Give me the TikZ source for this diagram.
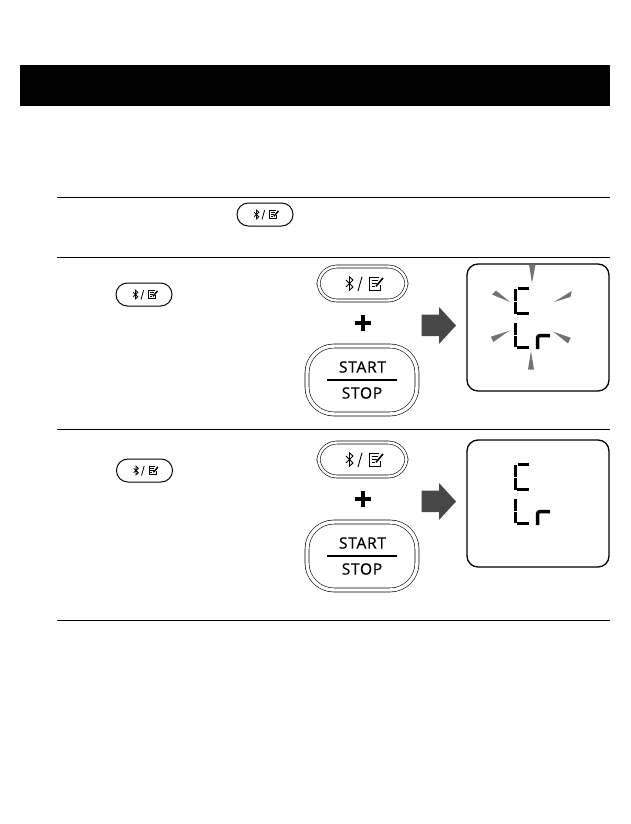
\documentclass[tikz,border=0pt]{standalone}
\usepackage{fontspec}
\setmainfont{Open Sans}
\newfontfamily\btnfont[LetterSpace=4.5,FakeBold=0.6]{Open Sans}
\tikzset{
  x=1pt,y=-1pt,
  rule/.style={line width=1.1pt,black},
  outline/.style={draw=black,rounded corners=#1,fill=white,inner sep=0pt},
  smallbtn/.style={outline=11.4pt,minimum width=56pt,minimum height=23pt,line width=1pt},
  bigbtn/.style={outline=18.4pt,minimum width=88pt,minimum height=34pt,double=white,double distance=2.4pt,line width=.6pt},
  startbtn/.style={outline=27pt,minimum width=110pt,minimum height=68pt,double=white,double distance=3.4pt,line width=.6pt},
  lcdpanel/.style={draw=black,line width=1.3pt,fill=white,rounded corners=11pt,minimum width=142pt,minimum height=127pt,inner sep=0pt},
  seg/.style={line width=3.3pt,black},
  ray/.style={fill=black!55,draw=none},
  btnicon/.pic={
    \draw[line width=#1,line join=miter] (-16.5,-3.4)--(-9.5,3.4)--(-13,6.8)--(-13,-6.8)--(-9.5,-3.4)--(-16.5,3.4);
    \draw[line width=#1] (-.5,-6.8)--(-4.5,7.5);
    \draw[line width=#1] (16,-6.2)--(7,-6.2)--(7,6.5)--(17.5,6.5)--(17.5,1);
    \draw[line width=#1] (9,-3)--(15,-3) (9,0)--(14,0) (9,3)--(12,3);
    \draw[line width=1.8*#1] (13.5,2.8)--(20.5,-5.5);
  }
}
\newcommand{\keypair}[1]{%
  \begin{scope}[yshift=-#1pt]
    \node[bigbtn] (bt#1) at (362.5,283.5) {};
    \pic at (bt#1.center) {btnicon=.9pt};
    \node[inner sep=0pt] (plus#1) at (363,323) {};
    \fill (plus#1)++(-8,-2.4) rectangle ++(16,4.8);
    \fill (plus#1)++(-2.4,-8) rectangle ++(4.8,16);
    \node[startbtn] (start#1) at (362,380) {};
    \node[font=\btnfont\fontsize{15.6}{15.6}\selectfont,inner sep=0pt] (sa#1) at (362.5,367) {START};
    \node[font=\btnfont\fontsize{15.6}{15.6}\selectfont,inner sep=0pt] (so#1) at (362,393) {STOP};
    \draw[line width=1.8pt] (327,380)--(397,380);
    \fill[black!72] (421.5,314.5)--(439,314.5)--(439,307)--(456,325.5)--(439,344)--(439,336)--(421.5,336)--cycle;
    \node[lcdpanel] (lcd#1) at (538,327.5) {};
    \draw[seg] (529,288.5)--(517.5,288.5) (515.8,289)--(515.8,300.5) (515.8,301.5)--(515.8,313.5) (517,313.8)--(529,313.8);
    \draw[seg] (515.8,323)--(515.8,335) (515.8,336)--(515.8,347) (517,347.6)--(529,347.6);
    \draw[seg,rounded corners=2pt] (537.6,349)--(537.6,335.6)--(550,335.6);
  \end{scope}}
\begin{document}
\begin{tikzpicture}
\useasboundingbox (0,0) rectangle (630,824);
\fill[black] (20,65) rectangle (610,106);
\coordinate (l1a) at (57,197.5); \coordinate (l1b) at (610,197.5);
\coordinate (l2a) at (57,257.5); \coordinate (l2b) at (610,257.5);
\coordinate (l3a) at (57,429.5); \coordinate (l3b) at (610,429.5);
\coordinate (l4a) at (57,620.5); \coordinate (l4b) at (610,620.5);
\draw[rule] (l1a)--(l1b) (l2a)--(l2b) (l3a)--(l3b) (l4a)--(l4b);
\node[smallbtn] (s1) at (265,214.5) {};
\pic[scale=.66] at (s1.center) {btnicon=.8pt};
\node[smallbtn] (s2) at (144,294.5) {};
\pic[scale=.66] at (s2.center) {btnicon=.8pt};
\node[smallbtn] (s3) at (144.5,470.5) {};
\pic[scale=.66] at (s3.center) {btnicon=.8pt};
\keypair{0}
\keypair{176}
\fill[ray] (529,264.5)--(535.5,264.5)--(532,283)--cycle;
\fill[ray] (528,369.5)--(534,369.5)--(531,351)--cycle;
\fill[ray] (492,294.5)--(496,290.5)--(510,302)--cycle;
\fill[ray] (571.7,291)--(570.5,297)--(554,302)--cycle;
\fill[ray] (491,336.7)--(493.3,342)--(509.3,330.7)--cycle;
\fill[ray] (570.7,337.7)--(568,343.5)--(553.3,331.7)--cycle;
\end{tikzpicture}
\end{document}
